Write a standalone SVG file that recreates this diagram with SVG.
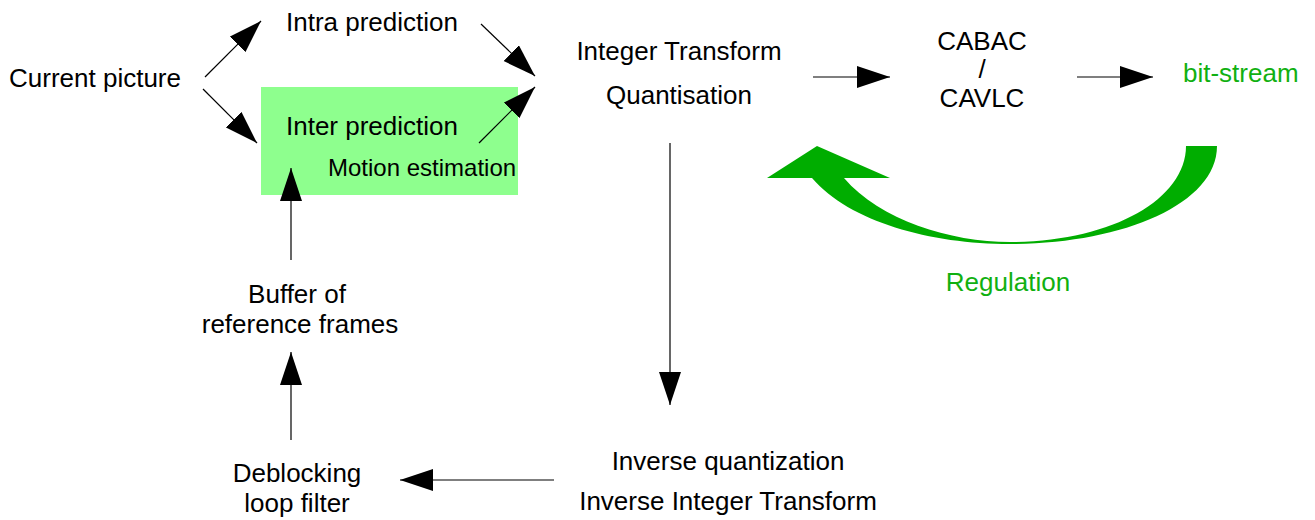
<svg xmlns="http://www.w3.org/2000/svg" width="1315" height="520" viewBox="0 0 1315 520">
<style>
text{font-family:"Liberation Sans",Arial,sans-serif;font-size:26px;fill:#000}
.g{fill:#11b011}
.sm{font-size:24px}
.c{text-anchor:middle}
.ln{stroke:#000;stroke-width:1.2;fill:none;marker-end:url(#ah)}
</style>
<defs>
<marker id="ah" markerUnits="userSpaceOnUse" markerWidth="34" markerHeight="23" refX="33" refY="11" orient="auto" viewBox="0 0 34 23">
<path d="M0,0 L33,11 L0,22 Z" fill="#000"/>
</marker>
</defs>
<rect width="1315" height="520" fill="#fff"/>
<g id="current"><text x="9" y="87">Current picture</text></g>
<g id="intra"><text x="286" y="31">Intra prediction</text></g>
<g id="inter">
<rect x="261" y="87" width="257" height="108" fill="#8eff8e"/>
<text x="286" y="135">Inter prediction</text>
<text class="sm" x="328" y="176">Motion estimation</text>
</g>
<g id="transform">
<text class="c" x="679" y="60">Integer Transform</text>
<text class="c" x="679" y="104">Quantisation</text>
</g>
<g id="entropy">
<text class="c" x="982" y="50">CABAC</text>
<text class="c" x="982" y="78">/</text>
<text class="c" x="982" y="107">CAVLC</text>
</g>
<g id="bitstream"><text class="g" x="1183" y="82">bit-stream</text></g>
<g id="regulation">
<path d="M1217,146 C1217,205 1120,244 1010,244 C930,244 850,222 812,178 L767,178 L817,146 L890,178 L844,178 C880,220 950,242 1010,242 C1110,242 1186,200 1186,146 Z" fill="#00ad00"/>
<text class="g c" x="1008" y="291">Regulation</text>
</g>
<g id="inverse">
<text class="c" x="728" y="470">Inverse quantization</text>
<text class="c" x="728" y="510">Inverse Integer Transform</text>
</g>
<g id="deblocking">
<text class="c" x="297" y="482">Deblocking</text>
<text class="c" x="297" y="512">loop filter</text>
</g>
<g id="buffer">
<text class="c" x="297" y="303">Buffer of</text>
<text class="c" x="300" y="333">reference frames</text>
</g>
<g id="connectors">
<line class="ln" x1="205" y1="77" x2="261" y2="21"/>
<line class="ln" x1="203" y1="89" x2="257" y2="143"/>
<line class="ln" x1="481" y1="24" x2="535" y2="76"/>
<line class="ln" x1="479" y1="143" x2="535" y2="87"/>
<line class="ln" x1="291" y1="260" x2="291" y2="168"/>
<line class="ln" x1="291" y1="440" x2="291" y2="352"/>
<line class="ln" x1="670" y1="143" x2="670" y2="405"/>
<line class="ln" x1="554" y1="480" x2="400" y2="480"/>
<line class="ln" x1="813" y1="77" x2="890" y2="77"/>
<line class="ln" x1="1077" y1="77" x2="1153" y2="77"/>
</g>
</svg>
